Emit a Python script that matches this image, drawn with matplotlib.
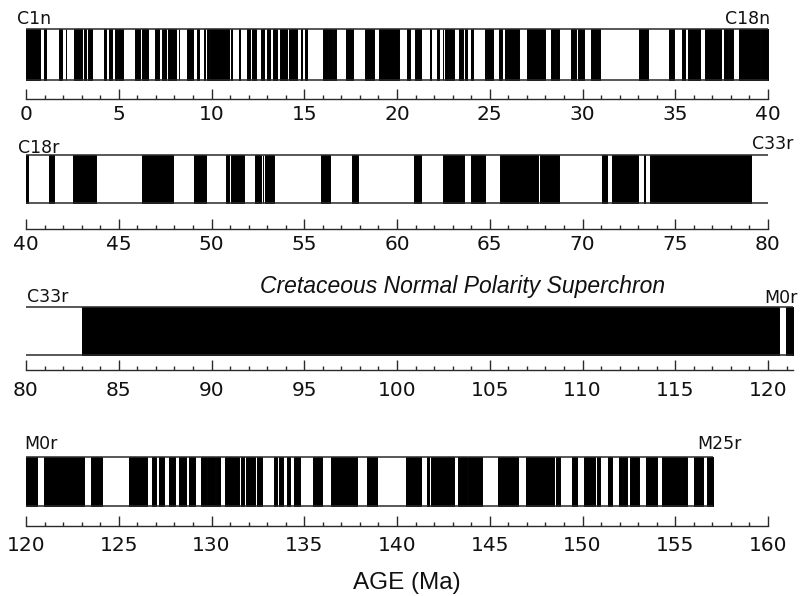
import matplotlib
matplotlib.use('Agg')
import matplotlib.pyplot as plt
from matplotlib.ticker import MultipleLocator

# ---------------- data: normal-polarity intervals (start, end) in Ma ----------------
normal_chrons = [
    (0.000, 0.780), (0.990, 1.070), (1.770, 1.950), (2.140, 2.150), (2.581, 3.040),
    (3.110, 3.220), (3.330, 3.580), (4.180, 4.290), (4.480, 4.620), (4.800, 4.890),
    (4.980, 5.230), (5.894, 6.137), (6.269, 6.567), (6.935, 7.091), (7.135, 7.170),
    (7.341, 7.375), (7.432, 7.562), (7.650, 8.072), (8.225, 8.257), (8.699, 9.025),
    (9.230, 9.308), (9.580, 9.642), (9.740, 9.880), (9.920, 10.949), (11.052, 11.099),
    (11.476, 11.531), (11.935, 12.078), (12.184, 12.401), (12.678, 12.708), (12.775, 12.819),
    (12.991, 13.139), (13.302, 13.510), (13.703, 14.076), (14.178, 14.612), (14.800, 14.888),
    (15.034, 15.155), (16.014, 16.293), (16.327, 16.488), (16.556, 16.726), (17.277, 17.615),
    (18.281, 18.781), (19.048, 20.131), (20.518, 20.725), (20.996, 21.320), (21.768, 21.859),
    (22.151, 22.248), (22.459, 22.493), (22.588, 22.750), (22.804, 23.069), (23.353, 23.535),
    (23.677, 23.800), (23.999, 24.118), (24.730, 24.781), (24.835, 25.183), (25.496, 25.648),
    (25.823, 25.951), (25.992, 26.554), (27.027, 27.972), (28.283, 28.512), (28.578, 28.745),
    (29.401, 29.662), (29.765, 30.098), (30.479, 30.939), (33.058, 33.545), (34.655, 34.940),
    (35.343, 35.526), (35.685, 36.341), (36.618, 37.473), (37.604, 37.848), (37.920, 38.113),
    (38.426, 39.552), (39.631, 40.130), (41.257, 41.521), (42.536, 43.789), (46.264, 47.906),
    (49.037, 49.714), (50.778, 50.946), (51.047, 51.743), (52.364, 52.663), (52.757, 52.801),
    (52.903, 53.347), (55.904, 56.391), (57.554, 57.911), (60.920, 61.276), (62.499, 63.634),
    (63.976, 64.745), (65.578, 67.610), (67.735, 68.737), (71.071, 71.338), (71.587, 73.004),
    (73.291, 73.374), (73.619, 79.075), (83.000, 120.61),
    (120.95, 123.13), (123.49, 124.08), (125.55, 126.54), (126.81, 127.03), (127.17, 127.44),
    (127.71, 128.03), (128.25, 128.60), (128.80, 129.10), (129.45, 129.69), (129.77, 130.17),
    (130.24, 130.44), (130.73, 131.48), (131.61, 131.75), (131.84, 132.34), (132.43, 132.74),
    (133.37, 133.51), (133.64, 133.87), (134.05, 134.23), (134.45, 134.77), (135.49, 135.94),
    (136.42, 137.83), (138.40, 138.94), (140.50, 141.28), (141.63, 141.73), (141.82, 143.07),
    (143.29, 143.76), (143.83, 144.60), (145.46, 146.50), (146.97, 148.46), (148.57, 148.79),
    (149.45, 149.69), (150.08, 150.66), (150.77, 150.94), (151.37, 151.61), (151.97, 152.11),
    (152.18, 152.42), (152.56, 153.05), (153.41, 154.00), (154.30, 155.29), (155.38, 155.65),
    (156.01, 156.51), (156.73, 157.05),
]

row_axis_ranges = [(0, 40), (40, 80), (80, 121.35), (120, 160)]
row_bar_ranges = [(0, 40), (40, 80), (80, 121.35), (120, 157.05)]
left_labels = ["C1n", "C18r", "C33r", "M0r"]
right_labels = ["C18n", "C33r", "M0r", "M25r"]
superchron_label = "Cretaceous Normal Polarity Superchron"
x_label = "AGE (Ma)"

# ---------------- layout (pixels) ----------------
W, H = 801, 596
PX_PER_MA = 18.55
X0_PX = 26
# (axis line y, bar top y, bar bottom y, tick label pad pt)
geom = [(99, 29.3, 80, 4.6), (229.3, 155, 203.3, 3.9), (370, 307, 355, 7.6), (526, 456.7, 505.7, 6.9)]
left_label_pos = [(17, 19), (18, 148), (27, 297.5), (24, 444)]
right_label_pos = [(770, 19, 'right'), (752, 144, 'left'), (798, 298, 'right'), (697, 444, 'left')]

fig = plt.figure(figsize=(W / 100, H / 100), dpi=100)
fig.patch.set_facecolor('white')

LINE_COL = '#2a2a2a'

for i, ((a0, a1), (b0, b1)) in enumerate(zip(row_axis_ranges, row_bar_ranges)):
    axis_y, top, bot, pad = geom[i]
    ax = fig.add_axes([X0_PX / W, (H - axis_y) / H, (a1 - a0) * PX_PER_MA / W, (axis_y - top) / H])
    ax.set_xlim(a0, a1)
    ax.set_ylim(axis_y, top)
    ax.patch.set_visible(False)
    for s in ('top', 'left', 'right'):
        ax.spines[s].set_visible(False)
    ax.spines['bottom'].set_color(LINE_COL)
    ax.spines['bottom'].set_linewidth(1.0)
    ax.set_yticks([])
    ax.xaxis.set_major_locator(MultipleLocator(5))
    ax.xaxis.set_minor_locator(MultipleLocator(1))
    ax.tick_params(axis='x', which='major', direction='in', length=7.5, width=1.0,
                   color=LINE_COL, labelsize=14.5, pad=pad, labelcolor='#111111')
    ax.tick_params(axis='x', which='minor', direction='in', length=2.6, width=1.0, color=LINE_COL)
    segs = []
    for s, e in normal_chrons:
        if e > b0 and s < b1:
            lo, hi = max(s, b0), min(e, b1)
            segs.append((lo, hi - lo))
    ax.broken_barh(segs, (top, bot - top), facecolors='black', edgecolor='black',
                   linewidth=0.7, clip_on=False)
    ax.hlines([top, bot], b0, b1, colors=LINE_COL, lw=1.1, clip_on=False)

def fx(x):
    return x / W

def fy(y):
    return 1 - y / H

for (x, y), t in zip(left_label_pos, left_labels):
    fig.text(fx(x), fy(y), t, ha='left', va='center', fontsize=12.5, color='#111111')
for (x, y, ha), t in zip(right_label_pos, right_labels):
    fig.text(fx(x), fy(y), t, ha=ha, va='center', fontsize=12.5, color='#111111')

fig.text(fx(260), fy(287), superchron_label, ha='left', va='center', fontsize=16.5,
         style='italic', family='Liberation Sans', color='#111111')
fig.text(fx(407), fy(583), x_label, ha='center', va='center', fontsize=17.5,
         family='Liberation Sans', color='#111111')

fig.savefig('out.png', dpi=100, facecolor='white')
